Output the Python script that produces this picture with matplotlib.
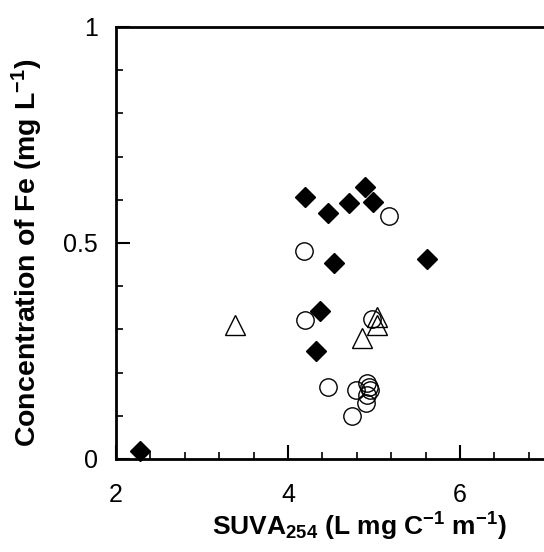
import matplotlib
matplotlib.use("Agg")
import matplotlib.pyplot as plt
from matplotlib.ticker import MultipleLocator

plt.rcParams['font.family'] = ['Liberation Sans', 'DejaVu Sans']
plt.rcParams['mathtext.fontset'] = 'custom'
plt.rcParams['mathtext.rm'] = 'Liberation Sans'
plt.rcParams['mathtext.bf'] = 'Liberation Sans:bold'
plt.rcParams['mathtext.default'] = 'bf'

diamond_x = [4.20, 4.90, 4.47, 4.71, 4.99, 4.54, 5.62, 4.37, 4.33, 2.28]
diamond_y = [0.606, 0.629, 0.570, 0.592, 0.596, 0.453, 0.463, 0.343, 0.250, 0.019]

circle_x = [5.18, 4.19, 4.20, 4.98, 4.47, 4.79, 4.92, 4.94, 4.92, 4.91, 4.95, 4.75]
circle_y = [0.563, 0.482, 0.322, 0.324, 0.167, 0.160, 0.175, 0.167, 0.148, 0.129, 0.160, 0.100]

triangle_x = [3.38, 4.86, 5.03, 5.04]
triangle_y = [0.310, 0.279, 0.329, 0.310]

fig = plt.figure(figsize=(5.44, 5.52), dpi=100)
ax = fig.add_axes([0.2132, 0.1685, 0.7904, 0.7826])
ax.set_xlim(2, 7)
ax.set_ylim(0, 1)

ax.plot(circle_x, circle_y, 'o', ms=12.5, mfc='none', mec='black', mew=1.0, clip_on=False)
ax.plot(triangle_x, triangle_y, '^', ms=14, mfc='none', mec='black', mew=1.0, clip_on=False)
ax.plot(diamond_x, diamond_y, 'D', ms=10.5, mfc='black', mec='black', clip_on=False)

for s in ['left', 'bottom', 'top']:
    ax.spines[s].set_linewidth(2)
ax.spines['right'].set_visible(False)

ax.xaxis.set_minor_locator(MultipleLocator(0.4))
ax.yaxis.set_minor_locator(MultipleLocator(0.1))
ax.set_yticks([0, 0.5, 1])
ax.set_yticklabels(['0', '0.5', '1'])
ax.set_xticks([2, 4, 6])
ax.set_xticklabels(['2', '4', '6'])
ax.tick_params(which='major', direction='in', length=10, width=1.5, labelsize=18)
ax.tick_params(axis='y', which='major', pad=13)
ax.tick_params(axis='x', which='major', pad=17.5)
ax.tick_params(which='minor', direction='in', length=5, width=1.2)
ax.tick_params(axis='y', which='both', right=False)
ax.tick_params(axis='x', which='both', top=False)

ax.set_xlabel(r'SUVA$_{254}$ (L mg C$^{-1}$ m$^{-1}$)', fontsize=19, fontweight='bold')
ax.set_ylabel(r'Concentration of Fe (mg L$^{-1}$)', fontsize=20.5, fontweight='bold')
ax.xaxis.set_label_coords(0.567, -0.12)
ax.yaxis.set_label_coords(-0.165, 0.477)

fig.savefig('out.png', dpi=100)
